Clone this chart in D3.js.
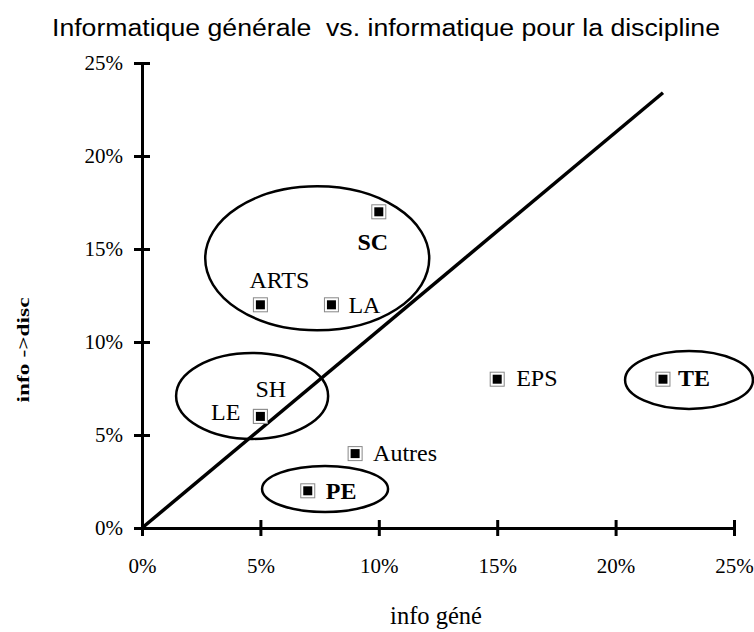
<!DOCTYPE html>
<html>
<head>
<meta charset="utf-8">
<script src="https://cdn.jsdelivr.net/npm/d3@7"></script>
<style>
  body { margin: 0; background: #fff; }
  svg text { fill: #000; }
</style>
</head>
<body>
<script>
// Disciplines and their two rates (percent)
var disciplines = ["ARTS", "LA", "SC", "SH", "LE", "EPS", "TE", "Autres", "PE"];
var infoGene = [5, 8, 10, 5, 5, 15, 22, 9, 7];
var infoDisc = [12, 12, 17, 6, 6, 8, 8, 4, 2];
var boldNames = ["SC", "TE", "PE"];

// Reference line (info gene, info disc)
var lineGene = [0, 22];
var lineDisc = [0, 23.4];

// Group ellipses: centre and radii in percent
var ellCx = [7.4, 4.65, 7.73, 23.1];
var ellCy = [14.5, 7.1, 2.1, 7.96];
var ellRx = [4.73, 3.21, 2.66, 2.7];
var ellRy = [3.87, 2.31, 1.24, 1.56];

var tickValues = [0, 5, 10, 15, 20, 25];

var w = 754, h = 632;
var serif = "'Liberation Serif', 'Times New Roman', serif";

//Label placement around each marker
var place = {
  "ARTS":   {dx: 19,  dy: -17, anchor: "middle"},
  "LA":     {dx: 17,  dy: 8,   anchor: "start"},
  "SC":     {dx: -6,  dy: 38,  anchor: "middle"},
  "SH":     {dx: -5,  dy: -19, anchor: "start"},
  "LE":     {dx: -20, dy: 4,   anchor: "end"},
  "EPS":    {dx: 19,  dy: 7,   anchor: "start"},
  "TE":     {dx: 15,  dy: 7,   anchor: "start"},
  "Autres": {dx: 18,  dy: 7,   anchor: "start"},
  "PE":     {dx: 18,  dy: 8,   anchor: "start"}
};

var dataset = disciplines.map((d, i) => ({name: d, gene: infoGene[i], disc: infoDisc[i]}));

var svg = d3.select("body").append("svg")
  .attr("width", w)
  .attr("height", h);

//Scale coordinates
var x = d3.scaleLinear().domain([0, 25]).range([142, 734]);
var y = d3.scaleLinear().domain([0, 25]).range([528, 63]);

//Axes with ticks crossing the line
var xAxis = svg.append("g")
  .attr("transform", "translate(0," + y(0) + ")")
  .call(d3.axisBottom(x)
    .tickValues(tickValues)
    .tickFormat(d => d + "%")
    .tickSizeInner(8)
    .tickSizeOuter(0)
    .tickPadding(22));
xAxis.selectAll(".tick line").attr("y1", -8);

var yAxis = svg.append("g")
  .attr("transform", "translate(" + x(0) + ",0)")
  .call(d3.axisLeft(y)
    .tickValues(tickValues)
    .tickFormat(d => d + "%")
    .tickSizeInner(8)
    .tickSizeOuter(0)
    .tickPadding(11));
yAxis.selectAll(".tick line").attr("x1", 8);

svg.selectAll(".domain, .tick line")
  .attr("stroke", "#000")
  .attr("stroke-width", 3);
svg.selectAll(".tick text")
  .style("font-family", serif)
  .style("font-size", "21px");

//Reference line
svg.append("line")
  .attr("x1", x(lineGene[0])).attr("y1", y(lineDisc[0]))
  .attr("x2", x(lineGene[1])).attr("y2", y(lineDisc[1]))
  .attr("stroke", "#000")
  .attr("stroke-width", 3.5);

//Ellipses around groups
svg.selectAll("ellipse")
  .data(ellCx)
  .enter()
  .append("ellipse")
    .attr("cx", (d) => x(d))
    .attr("cy", (d, i) => y(ellCy[i]))
    .attr("rx", (d, i) => x(ellRx[i]) - x(0))
    .attr("ry", (d, i) => y(0) - y(ellRy[i]))
    .attr("fill", "none")
    .attr("stroke", "#000")
    .attr("stroke-width", 2.5);

//Markers
var marks = svg.selectAll("g.mark")
  .data(dataset)
  .enter()
  .append("g")
    .attr("class", "mark")
    .attr("transform", (d) => "translate(" + x(d.gene) + "," + y(d.disc) + ")");
marks.append("rect")
  .attr("x", -7).attr("y", -7)
  .attr("width", 14).attr("height", 14)
  .attr("fill", "#fff")
  .attr("stroke", "#888")
  .attr("stroke-width", 1);
marks.append("rect")
  .attr("x", -4.5).attr("y", -4.5)
  .attr("width", 9).attr("height", 9)
  .attr("fill", "#000");

//Labels
svg.selectAll("text.lbl")
  .data(dataset)
  .enter()
  .append("text")
    .attr("class", "lbl")
    .attr("x", (d) => x(d.gene) + place[d.name].dx)
    .attr("y", (d) => y(d.disc) + place[d.name].dy)
    .attr("text-anchor", (d) => place[d.name].anchor)
    .style("font-family", serif)
    .style("font-size", "24px")
    .style("font-weight", (d) => boldNames.includes(d.name) ? "bold" : "normal")
    .text((d) => d.name);

//Titles
svg.append("text")
  .attr("x", 386).attr("y", 36)
  .attr("text-anchor", "middle")
  .attr("textLength", 668)
  .attr("lengthAdjust", "spacingAndGlyphs")
  .style("white-space", "pre")
  .style("font-family", "'Liberation Sans', Arial, sans-serif")
  .style("font-size", "23px")
  .text("Informatique générale  vs. informatique pour la discipline");

svg.append("text")
  .attr("x", 436).attr("y", 624)
  .attr("text-anchor", "middle")
  .style("font-family", serif)
  .style("font-size", "24.5px")
  .text("info géné");

svg.append("text")
  .attr("transform", "translate(29,350) rotate(-90)")
  .attr("text-anchor", "middle")
  .attr("textLength", 105)
  .attr("lengthAdjust", "spacingAndGlyphs")
  .style("font-family", serif)
  .style("font-size", "17px")
  .style("font-weight", "bold")
  .text("info ->disc");
</script>
</body>
</html>
